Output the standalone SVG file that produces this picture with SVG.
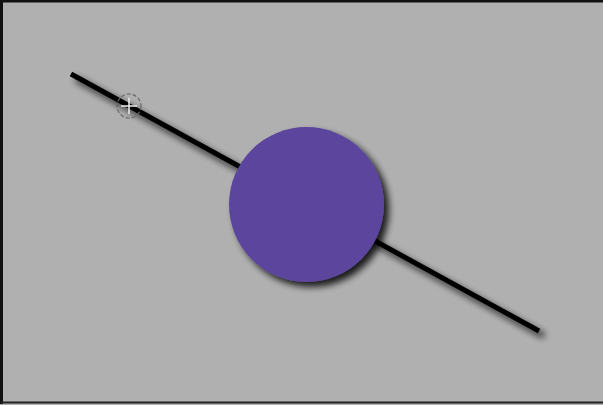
<svg xmlns="http://www.w3.org/2000/svg" width="603" height="405" viewBox="0 0 603 405">
<defs>
<filter id="sh" x="-20%" y="-20%" width="150%" height="150%">
<feGaussianBlur in="SourceAlpha" stdDeviation="3.5"/>
<feOffset dx="5" dy="5" result="b"/>
<feComponentTransfer><feFuncA type="linear" slope="0.85"/></feComponentTransfer>
<feMerge><feMergeNode/><feMergeNode in="SourceGraphic"/></feMerge>
</filter>
<style>
.ln{stroke:#000;stroke-width:5;fill:none}
.nd{fill:#5c459d}
</style>
</defs>
<rect x="0" y="0" width="603" height="405" fill="#b0b0b0"/>
<path d="M1.5 404 V1 H603" fill="none" stroke="#111" stroke-width="3"/>
<line x1="1" y1="402.5" x2="603" y2="402.5" stroke="#222" stroke-width="2"/>
<g id="connectors">
<line class="ln" x1="71" y1="74" x2="539" y2="331" filter="url(#sh)"/>
</g>
<g id="node-circle">
<circle class="nd" cx="306.5" cy="204.5" r="77.5" filter="url(#sh)"/>
</g>
<g id="cursor" fill="none">
<circle cx="129" cy="106" r="12" stroke="#666" stroke-width="1.2" stroke-dasharray="4 2"/>
<path d="M121 106 H137 M129 98 V114" stroke="#eee" stroke-width="1.5"/>
</g>
</svg>
